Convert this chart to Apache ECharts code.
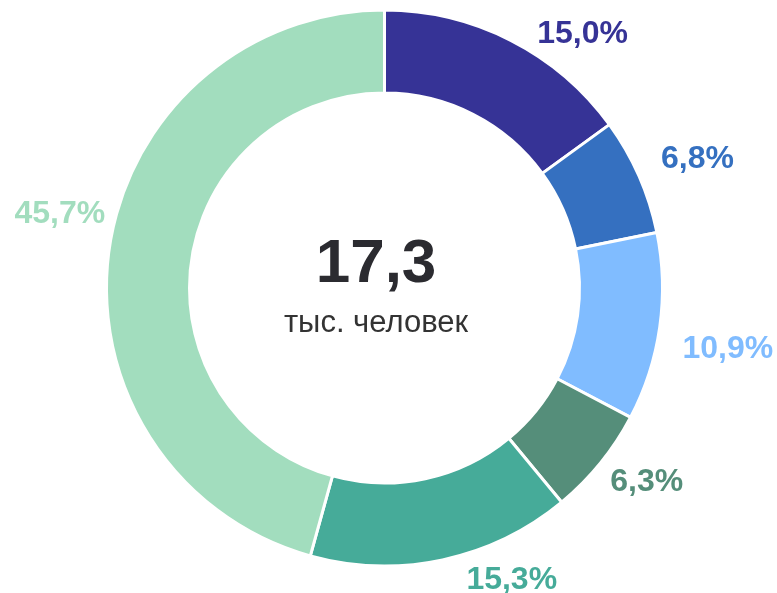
<!DOCTYPE html>
<html>
<head>
<meta charset="utf-8">
<script src="https://cdn.jsdelivr.net/npm/echarts@6/dist/echarts.min.js"></script>
<style>
  html, body { margin: 0; padding: 0; background: #fff; }
  #chart { width: 777px; height: 593px; }
</style>
</head>
<body>
<div id="chart"></div>
<script>
// share of each group, percent
const shares = [15.0, 6.8, 10.9, 6.3, 15.3, 45.7];
const colors = ['#363396', '#3570C0', '#80BCFF', '#558E7A', '#46AB99', '#A2DDBE'];
const totalText = '17,3';
const unitText = 'тыс. человек';

// small label shifts so they sit like in the original layout
const labelNudge = [[16, 14], [1, -8], [0, 19], [-8, 5], [19, -2], [19, -33]];

const chart = echarts.init(document.getElementById('chart'));

const option = {
  animation: false,
  color: colors,
  graphic: [
    {
      type: 'text',
      x: 376,
      y: 265,
      style: {
        text: totalText,
        fill: '#2b2b30',
        font: 'bold 62px "Liberation Sans", Arial, sans-serif',
        textAlign: 'center',
        textVerticalAlign: 'middle'
      }
    },
    {
      type: 'text',
      x: 376,
      y: 323,
      style: {
        text: unitText,
        fill: '#333',
        font: '31px "Liberation Sans", Arial, sans-serif',
        textAlign: 'center',
        textVerticalAlign: 'middle'
      }
    }
  ],
  series: [
    {
      type: 'pie',
      center: [384.5, 288],
      radius: [195, 278],
      startAngle: 90,
      clockwise: true,
      avoidLabelOverlap: false,
      itemStyle: {
        borderColor: '#fff',
        borderWidth: 3
      },
      label: {
        show: true,
        position: 'outside',
        distanceToLabelLine: 0,
        fontFamily: '"Liberation Sans", Arial, sans-serif',
        fontWeight: 'bold',
        fontSize: 32,
        formatter: p => p.value.toFixed(1).replace('.', ',') + '%'
      },
      labelLine: {
        show: false,
        length: 23,
        length2: 0
      },
      labelLayout: p => ({
        dx: labelNudge[p.dataIndex][0],
        dy: labelNudge[p.dataIndex][1]
      }),
      data: shares.map((v, i) => ({
        value: v,
        label: { color: colors[i] }
      }))
    }
  ]
};

chart.setOption(option);
</script>
</body>
</html>
